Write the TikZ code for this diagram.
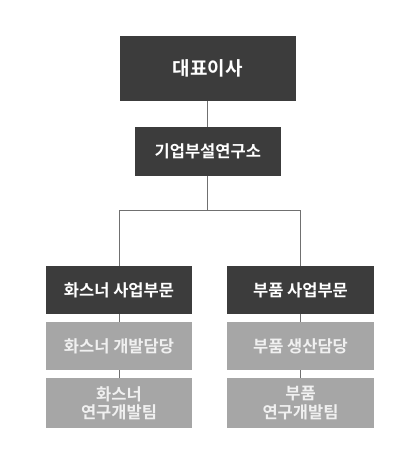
\documentclass[tikz,border=0pt]{standalone}
\usepackage{fontspec}
\newfontfamily\krfont{Noto Sans CJK KR}[BoldFont={Noto Sans CJK KR Bold}]
\definecolor{boxdark}{HTML}{3C3C3C}
\definecolor{boxlight}{HTML}{A6A6A6}
\definecolor{linegray}{HTML}{707070}
\tikzset{
  orgbox/.style={inner sep=0pt,outer sep=0pt,text=white,align=center,
    font=\krfont\bfseries\fontsize{16.5}{18.3}\selectfont},
  headbox/.style={orgbox,fill=boxdark},
  subbox/.style={orgbox,fill=boxlight,text=white!94!black},
  orgline/.style={draw=linegray,line width=0.8pt}
}
\begin{document}
\begin{tikzpicture}[x=1pt,y=-1pt]
  \useasboundingbox (0,0) rectangle (417,460);
  % Top of the chart
  \node[headbox,minimum width=176.5pt,minimum height=65pt,
    font=\krfont\bfseries\fontsize{19}{22}\selectfont] (ceo) at (207.8,68.5) {대표이사};
  \node[headbox,minimum width=146.3pt,minimum height=49pt] (lab) at (207.8,151.8) {기업부설연구소};
  \coordinate (split) at (207.8,210.3);
  %
  % Left column
  \node[headbox,minimum width=146.6pt,minimum height=48.3pt] (fasten) at (119,289.9) {화스너 사업부문};
  \node[subbox,minimum width=146.6pt,minimum height=48.6pt] (fastendev) at (119,346) {화스너 개발담당};
  \node[subbox,minimum width=146.6pt,minimum height=49.4pt] (fastenlab) at (119,403) {화스너\\연구개발팀};
  %
  % Right column
  \node[headbox,minimum width=146.4pt,minimum height=48.3pt] (parts) at (300.5,289.9) {부품 사업부문};
  \node[subbox,minimum width=146.4pt,minimum height=48.6pt] (partsprod) at (300.5,346) {부품 생산담당};
  \node[subbox,minimum width=146.4pt,minimum height=49.4pt] (partslab) at (300.5,403) {부품\\연구개발팀};
  %
  % Connectors
  \draw[orgline] (ceo.south) -- (lab.north);
  \draw[orgline] (lab.south) -- (split);
  \draw[orgline] (fasten.north) |- (split) -| (parts.north);
  \draw[orgline] (fasten.south) -- (fastendev.north);
  \draw[orgline] (fastendev.south) -- (fastenlab.north);
  \draw[orgline] (parts.south) -- (partsprod.north);
  \draw[orgline] (partsprod.south) -- (partslab.north);
\end{tikzpicture}
\end{document}
